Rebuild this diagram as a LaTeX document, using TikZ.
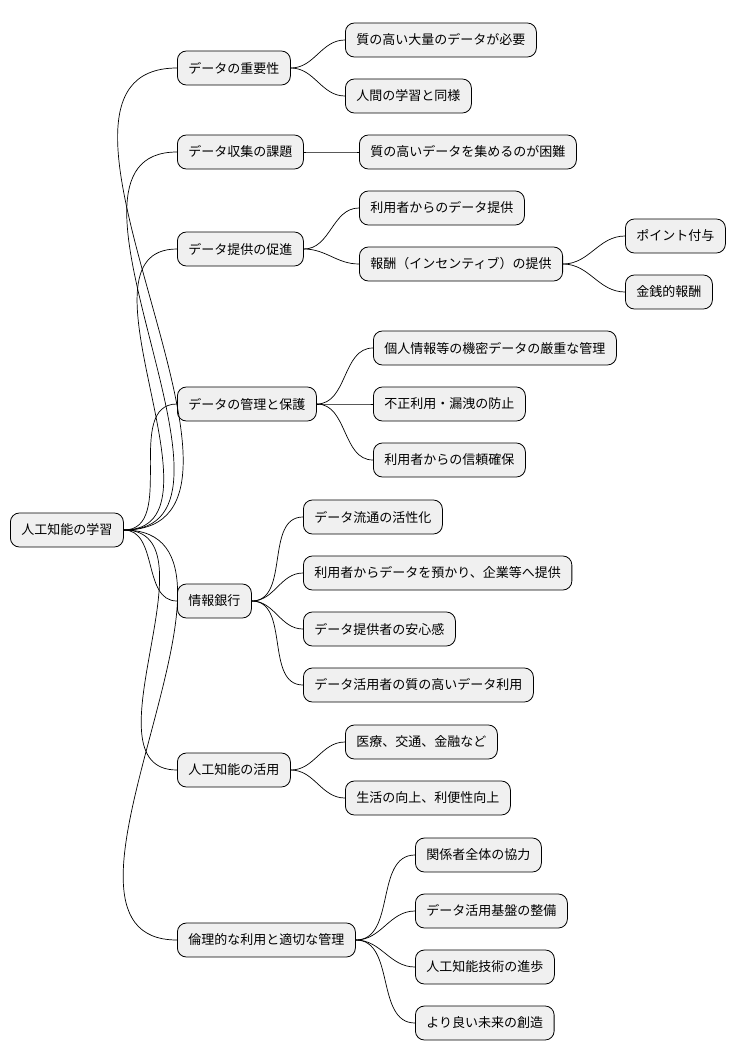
\documentclass[tikz,border=0pt]{standalone}
\usepackage{fontspec}
\setmainfont{Noto Sans CJK JP}
\begin{document}
\begin{tikzpicture}[x=1pt,y=-1pt,
  mm/.style={draw=black,line width=0.8pt,fill=black!6,rounded corners=9pt,anchor=west,
    minimum height=34pt,inner xsep=11pt,font=\fontsize{13}{15}\selectfont},
  lk/.style={line width=0.7pt}]
\useasboundingbox (0,0) rectangle (740,1062);
\node[mm] (r) at (10,530) {人工知能の学習};
\node[mm] (a) at (177,68) {データの重要性};
\node[mm] (b) at (177,152) {データ収集の課題};
\node[mm] (c) at (177,249) {データ提供の促進};
\node[mm] (d) at (177,404) {データの管理と保護};
\node[mm] (e) at (177,601) {情報銀行};
\node[mm] (f) at (177,770) {人工知能の活用};
\node[mm] (g) at (177,940) {倫理的な利用と適切な管理};
\node[mm] (a1) at (345,40) {質の高い大量のデータが必要};
\node[mm] (a2) at (345,96) {人間の学習と同様};
\node[mm] (b1) at (359,152) {質の高いデータを集めるのが困難};
\node[mm] (c1) at (359,208) {利用者からのデータ提供};
\node[mm] (c2) at (359,264) {報酬（インセンティブ）の提供};
\node[mm] (c21) at (625,236) {ポイント付与};
\node[mm] (c22) at (625,292) {金銭的報酬};
\node[mm] (d1) at (373,348) {個人情報等の機密データの厳重な管理};
\node[mm] (d2) at (373,404) {不正利用・漏洩の防止};
\node[mm] (d3) at (373,460) {利用者からの信頼確保};
\node[mm] (e1) at (303,517) {データ流通の活性化};
\node[mm] (e2) at (303,573) {利用者からデータを預かり、企業等へ提供};
\node[mm] (e3) at (303,629) {データ提供者の安心感};
\node[mm] (e4) at (303,685) {データ活用者の質の高いデータ利用};
\node[mm] (f1) at (345,742) {医療、交通、金融など};
\node[mm] (f2) at (345,798) {生活の向上、利便性向上};
\node[mm] (g1) at (415,855) {関係者全体の協力};
\node[mm] (g2) at (415,911) {データ活用基盤の整備};
\node[mm] (g3) at (415,967) {人工知能技術の進歩};
\node[mm] (g4) at (415,1023) {より良い未来の創造};
\foreach \p/\c in {r/a,r/b,r/c,r/d,r/e,r/f,r/g,a/a1,a/a2,b/b1,c/c1,c/c2,c2/c21,c2/c22,d/d1,d/d2,d/d3,e/e1,e/e2,e/e3,e/e4,f/f1,f/f2,g/g1,g/g2,g/g3,g/g4}
  \draw[lk] (\p.east) to[out=0,in=180] (\c.west);
\end{tikzpicture}
\end{document}
